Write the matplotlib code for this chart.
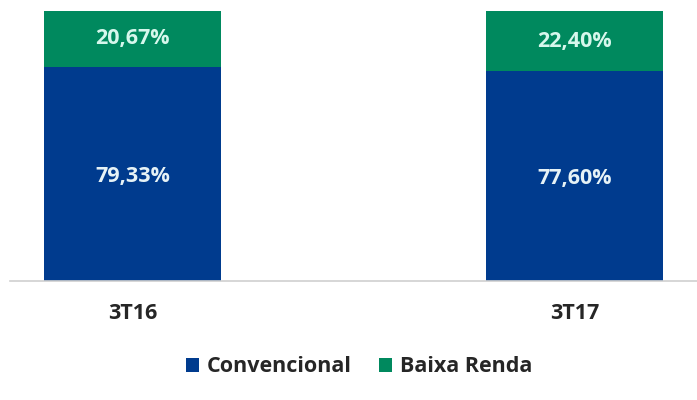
import matplotlib.pyplot as plt

categories = ['3T16', '3T17']
convencional = [79.33, 77.60]
baixa_renda = [20.67, 22.40]
series_names = ['Convencional', 'Baixa Renda']

blue = '#003B8E'
green = '#00895E'

plt.rcParams['font.family'] = ['Open Sans', 'DejaVu Sans']

fig = plt.figure(figsize=(6.97, 4.0), dpi=100)
ax = fig.add_axes([10 / 697, 119 / 400, 687 / 697, 270 / 400])

x = range(len(categories))
b1 = ax.bar(x, convencional, width=0.4, color=blue, label=series_names[0])
b2 = ax.bar(x, baixa_renda, width=0.4, bottom=convencional, color=green, label=series_names[1])

for i in x:
    ax.text(i, convencional[i] / 2 - 1, ('%.2f%%' % convencional[i]).replace('.', ','),
            ha='center', va='center', color='#E6F2F6', fontsize=15.5, fontweight='bold')
    ax.text(i, convencional[i] + baixa_renda[i] / 2, ('%.2f%%' % baixa_renda[i]).replace('.', ','),
            ha='center', va='center', color='#D6F7EC', fontsize=15.5, fontweight='bold')

ax.set_xlim(-0.277, 1.276)
ax.set_ylim(0, 100)
ax.set_xticks(list(x))
ax.set_xticklabels(categories, fontsize=15.5, fontweight='bold', color='#262626')
ax.tick_params(axis='x', length=0, pad=16)
ax.set_yticks([])
for s in ['top', 'right', 'left']:
    ax.spines[s].set_visible(False)
ax.spines['bottom'].set_color('#D0D0D0')
ax.spines['bottom'].set_linewidth(1.2)

leg = fig.legend(handles=[b1, b2], loc='center', bbox_to_anchor=(359 / 697, 33 / 400),
                 ncol=2, frameon=False, handlelength=0.63, handleheight=0.63,
                 handletextpad=0.36, columnspacing=1.25, prop={'size': 15.5, 'weight': 'bold'})
for t in leg.get_texts():
    t.set_color('#262626')

fig.savefig('out.png', dpi=100)
